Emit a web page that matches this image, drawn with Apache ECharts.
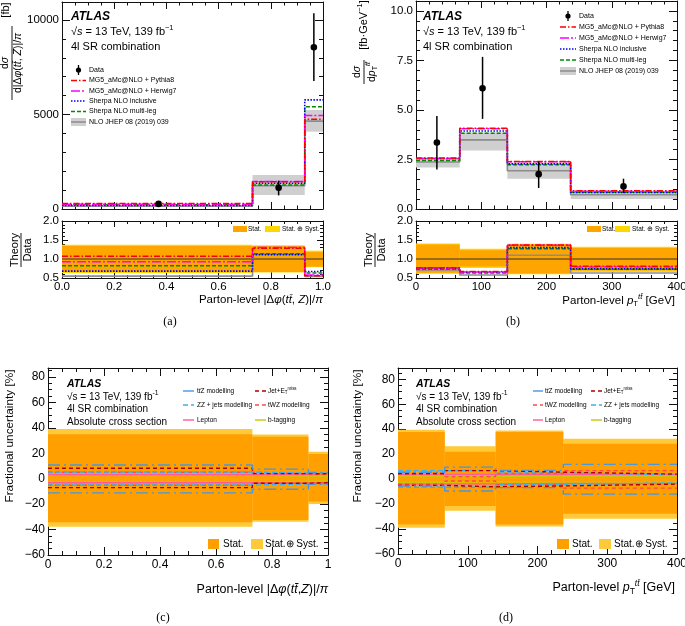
<!DOCTYPE html>
<html><head><meta charset="utf-8">
<script src="https://cdn.jsdelivr.net/npm/echarts@6/dist/echarts.min.js"></script>
<style>html,body{margin:0;padding:0;background:#fff}#c{width:685px;height:626px}</style>
</head><body><div id="c"></div>
<script>
const FONT = '"Liberation Sans", Arial, Helvetica, sans-serif';
const SERIF = '"Liberation Serif", "Times New Roman", serif';

// ===== Series names =====
const modelNames = ['Data', 'MG5_aMc@NLO + Pythia8', 'MG5_aMc@NLO + Herwig7', 'Sherpa NLO inclusive', 'Sherpa NLO multi-leg', 'NLO JHEP 08 (2019) 039'];
const systNamesC = ['t{o|t}Z modelling', 'ZZ + jets modelling', 'Lepton', 'Jet+E{sub|T}{sup|miss}', 'tWZ modelling', 'b-tagging'];
const bandNames = ['Stat.', 'Stat. ⊕ Syst.'];

// ===== Panel (a): |Δφ(tt̄,Z)|/π =====
const dphiEdges = [0, 0.73, 0.93, 1.0];
const dphiDataX = [0.37, 0.83, 0.965];
const dphiData = [270, 1120, 8560];
const dphiDataLo = [190, 720, 6770];
const dphiDataHi = [350, 1500, 10350];
const dphiPythia8 = [290, 1440, 4750];
const dphiHerwig7 = [250, 1450, 4940];
const dphiSherpaIncl = [185, 1360, 5770];
const dphiSherpaML = [222, 1270, 5410];
const dphiNLO = [150, 1230, 4650];
const dphiNLOLo = [120, 740, 4090];
const dphiNLOHi = [190, 1800, 5240];
const dphiRatioPythia8 = [1.07, 1.28, 0.56];
const dphiRatioHerwig7 = [0.93, 1.30, 0.58];
const dphiRatioSherpaIncl = [0.68, 1.11, 0.67];
const dphiRatioSherpaML = [0.82, 1.14, 0.63];
const dphiRatioNLO = [0.55, 1.13, 0.54];
const dphiStatUp = [1.34, 1.34, 1.185];
const dphiStatDn = [0.655, 0.66, 0.80];
const dphiTotUp = [1.375, 1.36, 1.22];
const dphiTotDn = [0.63, 0.645, 0.785];

// ===== Panel (b): pT(tt̄) =====
const ptEdges = [0, 67, 140, 237, 400];
const ptDataX = [32, 102, 188, 318];
const ptData = [3.36, 6.09, 1.76, 1.14];
const ptDataLo = [2.0, 4.55, 1.06, 0.80];
const ptDataHi = [4.7, 7.68, 2.40, 1.53];
const ptPythia8 = [2.57, 4.08, 2.40, 0.92];
const ptHerwig7 = [2.55, 4.05, 2.38, 0.90];
const ptSherpaIncl = [2.55, 3.94, 2.28, 0.84];
const ptSherpaML = [2.45, 3.83, 2.23, 0.84];
const ptNLO = [2.37, 3.49, 1.93, 0.72];
const ptNLOLo = [2.10, 2.95, 1.53, 0.50];
const ptNLOHi = [2.57, 3.86, 2.35, 0.89];
const ptRatioPythia8 = [0.77, 0.67, 1.37, 0.81];
const ptRatioHerwig7 = [0.76, 0.66, 1.36, 0.79];
const ptRatioSherpaIncl = [0.76, 0.65, 1.30, 0.74];
const ptRatioSherpaML = [0.73, 0.63, 1.27, 0.73];
const ptRatioNLO = [0.71, 0.58, 1.10, 0.63];
const ptStatUp = [1.38, 1.23, 1.38, 1.29];
const ptStatDn = [0.64, 0.80, 0.62, 0.70];
const ptTotUp = [1.41, 1.27, 1.40, 1.32];
const ptTotDn = [0.61, 0.76, 0.60, 0.66];

// ===== Panel (c): fractional uncertainties, |Δφ| =====
const cStatUp = [35, 33, 19.4];
const cStatDn = [-34.3, -32.5, -18];
const cTotUp = [39, 34.8, 21.2];
const cTotDn = [-37.7, -33.8, -20];
const cTtZUp = [10.7, 7.5, 4.8];
const cTtZDn = [-11.2, -8.3, -4.5];
const cZZUp = [5.2, 4.4, 4.5];
const cZZDn = [-5.0, -4.2, -4.0];
const cJetUp = [8.2, 4.0, 3.8];
const cJetDn = [-7.0, -3.6, -3.2];
const cTWZUp = [5.0, 3.8, 3.5];
const cTWZDn = [-5.2, -3.5, -3.0];
const cLepUp = [3.2, 3.5, 4.2];
const cLepDn = [-3.2, -3.6, -3.3];
const cBtagUp = [2.8, 2.1, 2.0];
const cBtagDn = [-2.5, -2.0, -1.8];

// ===== Panel (d): fractional uncertainties, pT(tt̄) =====
const dStatUp = [37.7, 22, 37.7, 28.3];
const dStatDn = [-36.3, -21.5, -36.3, -27.7];
const dTotUp = [39.6, 26.4, 39, 32.3];
const dTotDn = [-39, -25.3, -38, -31.8];
const dTtZUp = [5.5, 9.6, 7.0, 11.8];
const dTtZDn = [-5.5, -9.5, -6.8, -12.0];
const dZZUp = [6.8, 7.0, 5.0, 3.5];
const dZZDn = [-6.5, -6.5, -4.5, -3.0];
const dJetUp = [4.5, 6.8, 5.5, 4.0];
const dJetDn = [-5.0, -6.2, -5.5, -4.0];
const dTWZUp = [4.0, 2.0, 4.5, 6.8];
const dTWZDn = [-4.0, -1.5, -4.5, -7.2];
const dLepUp = [3.8, 3.8, 3.8, 3.8];
const dLepDn = [-4.0, -3.8, -3.5, -3.5];
const dBtagUp = [2.5, 2.0, 2.5, 2.5];
const dBtagDn = [-2.5, -2.0, -2.5, -2.5];

const ratioUnity = [1];

// ===== Tick labels =====
const dphiXTicks = [0, 0.2, 0.4, 0.6, 0.8, 1.0];
const dphiXTickLabels = ['0.0', '0.2', '0.4', '0.6', '0.8', '1.0'];
const dphiXTickLabelsC = ['0', '0.2', '0.4', '0.6', '0.8', '1'];
const dphiYTicks = [0, 5000, 10000];
const dphiYTickLabels = ['0', '5000', '10000'];
const ptXTicks = [0, 100, 200, 300, 400];
const ptXTickLabels = ['0', '100', '200', '300', '400'];
const ptYTicks = [0, 2.5, 5, 7.5, 10];
const ptYTickLabels = ['0.0', '2.5', '5.0', '7.5', '10.0'];
const ratioYTicks = [0.5, 1.0, 1.5, 2.0];
const ratioYTickLabels = ['0.5', '1.0', '1.5', '2.0'];
const uncYTicks = [-60, -40, -20, 0, 20, 40, 60, 80];
const uncYTickLabels = ['−60', '−40', '−20', '0', '20', '40', '60', '80'];

// ===== Styles =====
const C_PY = '#ff0000', C_HW = '#ff00ff', C_SI = '#0000ff', C_SM = '#008a00', C_NLO = '#8c8c8c', C_BAND = '#cfcfcf';
const D_PY = [6, 2, 1.5, 2], D_HW = [9, 2, 2, 2], D_SI = [1.5, 1.5], D_SM = [4, 2];
const C_STAT = '#ffa500', C_TOT = '#ffd700';
const C_STAT2 = '#ff9f00', C_TOT2 = '#ffca3a';
const S_TTZ = {c:'#4a96e0', d:[12, 4, 2, 4]}, S_ZZ = {c:'#3ab0f5', d:[5, 3]}, S_LEP = {c:'#ff5a9e', d:'solid'},
      S_JET = {c:'#b00000', d:[4, 3]}, S_TWZ = {c:'#ff4a4a', d:[4, 3]}, S_BT = {c:'#c8c800', d:'solid'};

// ===== Helpers =====
function labelFn(ticks, labels) {
  return v => { const i = ticks.findIndex(t => Math.abs(t - v) < 1e-6); return i >= 0 ? labels[i] : ''; };
}
function axisPair(dim, g, s) {
  const base = {
    type: 'value', gridIndex: g, min: s.min, max: s.max, interval: s.interval,
    splitLine: {show: false},
    axisLine: {show: true, onZero: false, lineStyle: {color: '#111', width: 1}},
    axisTick: {show: true, inside: true, length: s.tick, lineStyle: {color: '#111', width: 1}},
    minorTick: {show: true, splitNumber: s.minor, length: s.minorLen, lineStyle: {color: '#111', width: 1}}
  };
  const primary = Object.assign({}, base, {
    position: dim === 'x' ? 'bottom' : 'left',
    axisLabel: s.labels ? {show: true, formatter: labelFn(s.ticks, s.labels), color: '#000', fontFamily: FONT,
      fontSize: s.fontSize, margin: s.margin, showMinLabel: true, showMaxLabel: true, hideOverlap: false} : {show: false}
  });
  const secondary = Object.assign({}, base, {position: dim === 'x' ? 'top' : 'right', axisLabel: {show: false}});
  return [primary, secondary];
}
function stepData(edges, vals) {
  const pts = vals.map((v, i) => [edges[i], v]);
  pts.push([edges[edges.length - 1], vals[vals.length - 1]]);
  return pts;
}
function stepSeries(g, edges, vals, color, type, width, z) {
  return {type: 'line', xAxisIndex: 2 * g, yAxisIndex: 2 * g, data: stepData(edges, vals), step: 'end',
    symbol: 'none', silent: true, z: z || 4, lineStyle: {color, width: width || 1.5, type: type || 'solid'}};
}
function bandSeries(g, edges, lo, hi, color, z) {
  return {type: 'custom', xAxisIndex: 2 * g, yAxisIndex: 2 * g, z: z || 1, silent: true,
    data: lo.map((l, i) => [edges[i], edges[i + 1], l, hi[i]]),
    encode: {x: [0, 1], y: [2, 3]},
    renderItem(params, api) {
      const p1 = api.coord([api.value(0), api.value(3)]);
      const p2 = api.coord([api.value(1), api.value(2)]);
      return {type: 'rect', shape: {x: p1[0], y: p1[1], width: p2[0] - p1[0], height: p2[1] - p1[1]}, style: {fill: color}};
    }};
}
function dataSeries(g, xs, ys, lo, hi) {
  return {type: 'custom', xAxisIndex: 2 * g, yAxisIndex: 2 * g, z: 10, silent: true,
    data: xs.map((x, i) => [x, ys[i], lo[i], hi[i]]),
    encode: {x: 0, y: [1, 2, 3]},
    renderItem(params, api) {
      const x = api.value(0);
      const c = api.coord([x, api.value(1)]), a = api.coord([x, api.value(2)]), b = api.coord([x, api.value(3)]);
      return {type: 'group', children: [
        {type: 'line', shape: {x1: a[0], y1: a[1], x2: b[0], y2: b[1]}, style: {stroke: '#000', lineWidth: 1.5}},
        {type: 'circle', shape: {cx: c[0], cy: c[1], r: 3.3}, style: {fill: '#000'}}
      ]};
    }};
}
function systPair(g, edges, up, dn, st) {
  return [stepSeries(g, edges, up, st.c, st.d, 1.4, 5), stepSeries(g, edges, dn, st.c, st.d, 1.4, 5)];
}

// ===== Graphic helpers =====
function T(x, y, text, size, o) {
  o = o || {};
  return {type: 'text', x, y, silent: true, rotation: o.rot || 0, z: 100,
    style: {text, fontFamily: o.family || FONT, fontSize: size, fontWeight: o.weight || 'normal', fontStyle: o.fstyle || 'normal',
      fill: '#000', align: o.align || 'left', verticalAlign: o.va || 'middle', textAlign: o.align || 'left',
      textVerticalAlign: o.va || 'middle', rich: o.rich}};
}
function L(x1, y1, x2, y2, color, w, dash) {
  return {type: 'line', silent: true, z: 100, shape: {x1, y1, x2, y2}, style: {stroke: color, lineWidth: w || 1.5, lineDash: dash || null}};
}
function R(x, y, w, h, color) {
  return {type: 'rect', silent: true, z: 100, shape: {x, y, width: w, height: h}, style: {fill: color}};
}
function richFor(size) {
  return {
    i: {fontStyle: 'italic', fontSize: size, fontFamily: FONT},
    o: {fontStyle: 'italic', fontSize: size, fontFamily: FONT},
    sup: {fontSize: size * 0.68, fontFamily: FONT, padding: [0, 0, size * 0.75, 0]},
    supi: {fontSize: size * 0.68, fontStyle: 'italic', fontFamily: FONT, padding: [0, 0, size * 0.75, 0]},
    sub: {fontSize: size * 0.68, fontFamily: FONT, padding: [size * 0.55, 0, 0, 0]}
  };
}
function modelLegend(x0, x1, xt, rows, size) {
  const els = [];
  const cx = (x0 + x1) / 2;
  els.push(L(cx, rows[0] - 5, cx, rows[0] + 5, '#000', 1.3));
  els.push({type: 'circle', silent: true, z: 100, shape: {cx, cy: rows[0], r: 2.6}, style: {fill: '#000'}});
  els.push(L(x0, rows[1], x1, rows[1], C_PY, 1.3, D_PY));
  els.push(L(x0, rows[2], x1, rows[2], C_HW, 1.3, D_HW));
  els.push(L(x0, rows[3], x1, rows[3], C_SI, 1.3, D_SI));
  els.push(L(x0, rows[4], x1, rows[4], C_SM, 1.3, D_SM));
  els.push(R(x0, rows[5] - 4, x1 - x0, 8, C_BAND));
  els.push(L(x0, rows[5], x1, rows[5], C_NLO, 1.5));
  modelNames.forEach((n, i) => els.push(T(xt, rows[i], n, size)));
  return els;
}
function fracTitle(cx, cy, num, den, half, size, extra) {
  const ch = [
    T(0, -1, num, size, {align: 'center', va: 'bottom', rich: richFor(size)}),
    L(-half, 0, half, 0, '#000', 0.9),
    T(0, 1, den, size, {align: 'center', va: 'top', rich: richFor(size)})
  ];
  if (extra) ch.push(T(extra.lx, extra.ly, extra.text, extra.size || size, {align: 'center', va: 'middle', rich: richFor(extra.size || size)}));
  return {type: 'group', x: cx, y: cy, rotation: Math.PI / 2, silent: true, children: ch};
}
function systLegend(cols, rows, items, size) {
  const els = [];
  items.forEach((it, k) => {
    const col = cols[Math.floor(k / 3)], y = rows[k % 3];
    els.push(L(col[0], y, col[1], y, it.st.c, 1.4, it.st.d === 'solid' ? null : it.st.d));
    els.push(T(col[2], y, it.name, size, {rich: richFor(size)}));
  });
  return els;
}

// ===== Grids & axes =====
const grids = [
  {left: 62, top: 2, width: 261, height: 207},
  {left: 62, top: 221, width: 261, height: 57},
  {left: 416, top: 1, width: 261, height: 208},
  {left: 416, top: 221, width: 261, height: 57},
  {left: 48, top: 368, width: 280, height: 187},
  {left: 398, top: 368, width: 279, height: 186}
].map(g => Object.assign(g, {containLabel: false, outerBoundsMode: 'none'}));

const specs = [
  {x: {min: 0, max: 1, interval: 0.2, minor: 4, tick: 7, minorLen: 3.5},
   y: {min: 0, max: 10950, interval: 5000, minor: 5, tick: 8, minorLen: 4, ticks: dphiYTicks, labels: dphiYTickLabels, fontSize: 11.5, margin: 3}},
  {x: {min: 0, max: 1, interval: 0.2, minor: 4, tick: 6, minorLen: 3, ticks: dphiXTicks, labels: dphiXTickLabels, fontSize: 11.5, margin: 3},
   y: {min: 0.5, max: 2.0, interval: 0.5, minor: 5, tick: 6, minorLen: 3, ticks: ratioYTicks, labels: ratioYTickLabels, fontSize: 11.5, margin: 3}},
  {x: {min: 0, max: 400, interval: 100, minor: 5, tick: 7, minorLen: 3.5},
   y: {min: 0, max: 10.5, interval: 2.5, minor: 5, tick: 8, minorLen: 4, ticks: ptYTicks, labels: ptYTickLabels, fontSize: 11.5, margin: 3}},
  {x: {min: 0, max: 400, interval: 100, minor: 5, tick: 6, minorLen: 3, ticks: ptXTicks, labels: ptXTickLabels, fontSize: 11.5, margin: 3},
   y: {min: 0.5, max: 2.0, interval: 0.5, minor: 5, tick: 6, minorLen: 3, ticks: ratioYTicks, labels: ratioYTickLabels, fontSize: 11.5, margin: 3}},
  {x: {min: 0, max: 1, interval: 0.2, minor: 4, tick: 8, minorLen: 4, ticks: dphiXTicks, labels: dphiXTickLabelsC, fontSize: 12, margin: 4},
   y: {min: -60, max: 87, interval: 20, minor: 4, tick: 8, minorLen: 4, ticks: uncYTicks, labels: uncYTickLabels, fontSize: 12, margin: 3}},
  {x: {min: 0, max: 400, interval: 100, minor: 5, tick: 8, minorLen: 4, ticks: ptXTicks, labels: ptXTickLabels, fontSize: 12, margin: 4},
   y: {min: -60, max: 89, interval: 20, minor: 4, tick: 8, minorLen: 4, ticks: uncYTicks, labels: uncYTickLabels, fontSize: 12, margin: 3}}
];
const xAxis = [], yAxis = [];
specs.forEach((s, g) => { xAxis.push(...axisPair('x', g, s.x)); yAxis.push(...axisPair('y', g, s.y)); });

// ===== Series =====
const series = [
  // (a) main
  bandSeries(0, dphiEdges, dphiNLOLo, dphiNLOHi, C_BAND, 1),
  stepSeries(0, dphiEdges, dphiNLO, C_NLO, 'solid', 1.6, 2),
  stepSeries(0, dphiEdges, dphiSherpaML, C_SM, D_SM, 1.5, 3),
  stepSeries(0, dphiEdges, dphiSherpaIncl, C_SI, D_SI, 1.6, 4),
  stepSeries(0, dphiEdges, dphiHerwig7, C_HW, D_HW, 1.5, 5),
  stepSeries(0, dphiEdges, dphiPythia8, C_PY, D_PY, 1.5, 6),
  dataSeries(0, dphiDataX, dphiData, dphiDataLo, dphiDataHi),
  // (a) ratio
  bandSeries(1, dphiEdges, dphiTotDn, dphiTotUp, C_TOT, 1),
  bandSeries(1, dphiEdges, dphiStatDn, dphiStatUp, C_STAT, 2),
  stepSeries(1, [0, 1], ratioUnity, '#333', 'solid', 1, 3),
  stepSeries(1, dphiEdges, dphiRatioNLO, C_NLO, 'solid', 1.6, 3),
  stepSeries(1, dphiEdges, dphiRatioSherpaML, C_SM, D_SM, 1.5, 4),
  stepSeries(1, dphiEdges, dphiRatioSherpaIncl, C_SI, D_SI, 1.6, 5),
  stepSeries(1, dphiEdges, dphiRatioHerwig7, C_HW, D_HW, 1.5, 6),
  stepSeries(1, dphiEdges, dphiRatioPythia8, C_PY, D_PY, 1.5, 7),
  // (b) main
  bandSeries(2, ptEdges, ptNLOLo, ptNLOHi, C_BAND, 1),
  stepSeries(2, ptEdges, ptNLO, C_NLO, 'solid', 1.6, 2),
  stepSeries(2, ptEdges, ptSherpaML, C_SM, D_SM, 1.5, 3),
  stepSeries(2, ptEdges, ptSherpaIncl, C_SI, D_SI, 1.6, 4),
  stepSeries(2, ptEdges, ptHerwig7, C_HW, D_HW, 1.5, 5),
  stepSeries(2, ptEdges, ptPythia8, C_PY, D_PY, 1.5, 6),
  dataSeries(2, ptDataX, ptData, ptDataLo, ptDataHi),
  // (b) ratio
  bandSeries(3, ptEdges, ptTotDn, ptTotUp, C_TOT, 1),
  bandSeries(3, ptEdges, ptStatDn, ptStatUp, C_STAT, 2),
  stepSeries(3, [0, 400], ratioUnity, '#333', 'solid', 1, 3),
  stepSeries(3, ptEdges, ptRatioNLO, C_NLO, 'solid', 1.6, 3),
  stepSeries(3, ptEdges, ptRatioSherpaML, C_SM, D_SM, 1.5, 4),
  stepSeries(3, ptEdges, ptRatioSherpaIncl, C_SI, D_SI, 1.6, 5),
  stepSeries(3, ptEdges, ptRatioHerwig7, C_HW, D_HW, 1.5, 6),
  stepSeries(3, ptEdges, ptRatioPythia8, C_PY, D_PY, 1.5, 7),
  // (c)
  bandSeries(4, dphiEdges, cTotDn, cTotUp, C_TOT2, 1),
  bandSeries(4, dphiEdges, cStatDn, cStatUp, C_STAT2, 2),
  ...systPair(4, dphiEdges, cBtagUp, cBtagDn, S_BT),
  ...systPair(4, dphiEdges, cLepUp, cLepDn, S_LEP),
  ...systPair(4, dphiEdges, cTWZUp, cTWZDn, S_TWZ),
  ...systPair(4, dphiEdges, cZZUp, cZZDn, S_ZZ),
  ...systPair(4, dphiEdges, cJetUp, cJetDn, S_JET),
  ...systPair(4, dphiEdges, cTtZUp, cTtZDn, S_TTZ),
  // (d)
  bandSeries(5, ptEdges, dTotDn, dTotUp, C_TOT2, 1),
  bandSeries(5, ptEdges, dStatDn, dStatUp, C_STAT2, 2),
  ...systPair(5, ptEdges, dBtagUp, dBtagDn, S_BT),
  ...systPair(5, ptEdges, dLepUp, dLepDn, S_LEP),
  ...systPair(5, ptEdges, dTWZUp, dTWZDn, S_TWZ),
  ...systPair(5, ptEdges, dZZUp, dZZDn, S_ZZ),
  ...systPair(5, ptEdges, dJetUp, dJetDn, S_JET),
  ...systPair(5, ptEdges, dTtZUp, dTtZDn, S_TTZ)
];

// ===== Graphic texts & legends =====
const sqrtText = '√{i|s} = 13 TeV, 139 fb{sup|−1}';
const g = [];
// (a) header
g.push(T(71, 17, 'ATLAS', 12, {weight: 'bold', fstyle: 'italic'}));
g.push(T(71, 32, sqrtText, 11, {rich: richFor(11)}));
g.push(T(71, 47, '4l SR combination', 11));
g.push(...modelLegend(71, 86, 89, [70, 80.5, 91, 101, 111.5, 122], 7));
// (b) header
g.push(T(423, 17, 'ATLAS', 12, {weight: 'bold', fstyle: 'italic'}));
g.push(T(423, 32, sqrtText, 11, {rich: richFor(11)}));
g.push(T(423, 47, '4l SR combination', 11));
g.push(...modelLegend(560, 576, 579, [16, 27, 38, 49, 60, 71], 7));
// ratio legends
g.push(R(233, 226, 14, 6, C_STAT), T(248, 229, bandNames[0], 6.5), R(265, 226, 15, 6, C_TOT), T(282, 229, bandNames[1], 6.5));
g.push(R(587, 226, 14, 6, C_STAT), T(602, 229, bandNames[0], 6.5), R(615, 226, 15, 6, C_TOT), T(632, 229, bandNames[1], 6.5));
// y titles (a),(b)
g.push(fracTitle(12, 63, 'd{i|σ}', 'd|Δ{i|φ}({i|tt̄}, {i|Z})|/{i|π}', 37, 10.5, {lx: 53, ly: -6, text: '[fb]', size: 11}));
g.push(fracTitle(21, 250, 'Theory', 'Data', 17, 11));
g.push(fracTitle(364, 72, 'd{i|σ}', 'd{i|p}{sub|T}{supi|tt̄}', 12, 10.5, {lx: 47, ly: 0, text: '[fb·GeV{sup|−1}]', size: 11}));
g.push(fracTitle(375, 250, 'Theory', 'Data', 17, 11));
// x titles (a),(b)
g.push(T(323, 300, 'Parton-level |Δ{i|φ}({i|tt̄}, {i|Z})|/{i|π}', 11.5, {align: 'right', rich: richFor(11.5)}));
g.push(T(675, 301, 'Parton-level {i|p}{sub|T}{supi|tt̄} [GeV]', 11.5, {align: 'right', rich: richFor(11.5)}));
// captions
g.push(T(170, 322, '(a)', 12, {align: 'center', family: SERIF}));
g.push(T(513, 322, '(b)', 12, {align: 'center', family: SERIF}));
g.push(T(163, 618, '(c)', 12, {align: 'center', family: SERIF}));
g.push(T(506, 618, '(d)', 12, {align: 'center', family: SERIF}));
// (c) header
const sqrtText2 = '√s = 13 TeV, 139 fb{sup|-1}';
g.push(T(67, 384, 'ATLAS', 10.5, {weight: 'bold', fstyle: 'italic'}));
g.push(T(67, 397, sqrtText2, 10, {rich: richFor(10)}));
g.push(T(67, 409.5, '4l SR combination', 10));
g.push(T(67, 422, 'Absolute cross section', 10));
g.push(T(416, 384, 'ATLAS', 10.5, {weight: 'bold', fstyle: 'italic'}));
g.push(T(416, 397, sqrtText2, 10, {rich: richFor(10)}));
g.push(T(416, 409.5, '4l SR combination', 10));
g.push(T(416, 422, 'Absolute cross section', 10));
// (c),(d) syst legends
g.push(...systLegend([[183, 194, 197], [255, 266, 268]], [391, 405, 420], [
  {st: S_TTZ, name: systNamesC[0]}, {st: S_ZZ, name: systNamesC[1]}, {st: S_LEP, name: systNamesC[2]},
  {st: S_JET, name: systNamesC[3]}, {st: S_TWZ, name: systNamesC[4]}, {st: S_BT, name: systNamesC[5]}], 6.5));
g.push(...systLegend([[533, 543, 545], [591, 602, 604]], [391, 405, 420], [
  {st: S_TTZ, name: systNamesC[0]}, {st: S_TWZ, name: systNamesC[4]}, {st: S_LEP, name: systNamesC[2]},
  {st: S_JET, name: systNamesC[3]}, {st: S_ZZ, name: systNamesC[1]}, {st: S_BT, name: systNamesC[5]}], 6.5));
// (c),(d) band legends
g.push(R(208, 539, 11, 10, C_STAT2), T(223, 544, 'Stat.', 10), R(251, 539, 12, 10, C_TOT2), T(265, 544, 'Stat.⊕ Syst.', 10));
g.push(R(557, 539, 12, 10, C_STAT2), T(572, 544, 'Stat.', 10), R(599, 539, 12, 10, C_TOT2), T(614, 544, 'Stat.⊕ Syst.', 10));
// (c),(d) axis titles
g.push(T(10, 436, 'Fractional uncertainty [%]', 11.8, {align: 'center', rot: Math.PI / 2}));
g.push(T(358, 436, 'Fractional uncertainty [%]', 11.8, {align: 'center', rot: Math.PI / 2}));
g.push(T(328, 590, 'Parton-level |Δ{i|φ}({i|tt̄},{i|Z})|/{i|π}', 12.5, {align: 'right', rich: richFor(12.5)}));
g.push(T(675, 588, 'Parton-level {i|p}{sub|T}{supi|tt̄} [GeV]', 12.5, {align: 'right', rich: richFor(12.5)}));

const chart = echarts.init(document.getElementById('c'), null, {renderer: 'canvas', width: 685, height: 626});
chart.setOption({
  animation: false,
  backgroundColor: '#fff',
  textStyle: {fontFamily: FONT},
  grid: grids,
  xAxis, yAxis, series,
  graphic: {elements: g}
});
</script>
</body></html>
